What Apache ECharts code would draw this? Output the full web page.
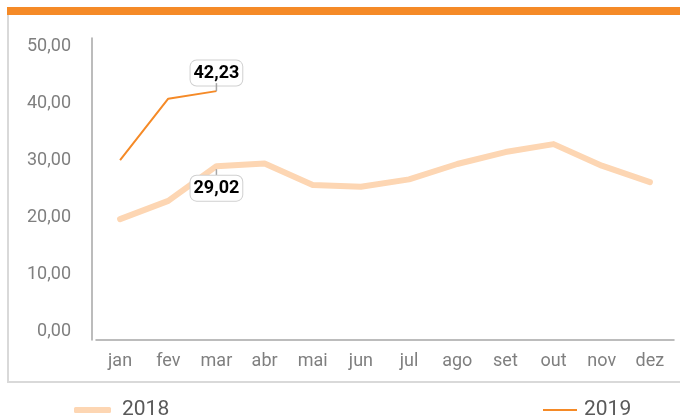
<!DOCTYPE html>
<html>
<head>
<meta charset="utf-8">
<script src="https://cdn.jsdelivr.net/npm/echarts@6/dist/echarts.min.js"></script>
<style>
  html, body { margin: 0; padding: 0; background: #fff; }
  #chart { width: 680px; height: 420px; }
</style>
</head>
<body>
<div id="chart"></div>
<script>
// dados
const meses = ['jan', 'fev', 'mar', 'abr', 'mai', 'jun', 'jul', 'ago', 'set', 'out', 'nov', 'dez'];
const valores2018 = [19.7, 22.9, 29.02, 29.5, 25.7, 25.4, 26.7, 29.4, 31.5, 32.9, 29.1, 26.2];
const valores2019 = [30.1, 40.9, 42.23];
const destaque = 2; // indice do mes com rotulo (mar)

const fonte = "Roboto, sans-serif";

function virgula(v) {
  return v.toFixed(2).replace('.', ',');
}

// monta os itens, so o ponto de destaque leva rotulo
function itens(valores, acima) {
  return valores.map((v, i) => {
    if (i !== destaque) return v;
    return {
      value: v,
      label: {
        show: true,
        position: acima ? 'top' : 'bottom',
        distance: acima ? 0 : 3,
        formatter: acima ? '{b|' + virgula(v) + '}\n{l|}' : '{l|}\n{b|' + virgula(v) + '}',
        rich: {
          b: {
            fontFamily: fonte,
            fontWeight: 'bold',
            fontSize: 18,
            color: '#000',
            lineHeight: 20,
            backgroundColor: '#fff',
            borderColor: '#d0d0d0',
            borderWidth: 1,
            borderRadius: 6,
            padding: [4, 3, 3, 3]
          },
          l: {
            width: 1.5,
            height: acima ? 8 : 9,
            backgroundColor: '#a6a6a6'
          }
        }
      }
    };
  });
}

let option = {
  animation: false,
  graphic: [
    { type: 'rect', shape: { x: 7, y: 7, width: 673, height: 8 }, style: { fill: '#f58a27' } },
    { type: 'rect', shape: { x: 7, y: 15, width: 2, height: 368 }, style: { fill: '#d9d9d9' } },
    { type: 'rect', shape: { x: 7, y: 381, width: 673, height: 2 }, style: { fill: '#d9d9d9' } }
  ],
  grid: {
    left: 96,
    right: 6,
    top: 38,
    bottom: 80
  },
  legend: [
    {
      data: ['2018'],
      left: 74,
      top: 398,
      padding: 0,
      icon: 'roundRect',
      itemWidth: 37,
      itemHeight: 6,
      textStyle: { fontFamily: fonte, fontSize: 21, color: '#595959', lineHeight: 24, padding: [0, 0, 0, 6] }
    },
    {
      data: ['2019'],
      left: 543,
      top: 398,
      padding: 0,
      icon: 'rect',
      itemWidth: 34,
      itemHeight: 2,
      textStyle: { fontFamily: fonte, fontSize: 21, color: '#595959', lineHeight: 24, padding: [0, 0, 0, 2] }
    }
  ],
  xAxis: {
    type: 'category',
    data: meses,
    boundaryGap: true,
    axisLine: { onZero: false, lineStyle: { color: '#a6a6a6', width: 1.5 } },
    axisTick: { show: false },
    axisLabel: { fontFamily: fonte, fontSize: 18, color: '#7f7f7f', margin: 12 }
  },
  yAxis: {
    type: 'value',
    min: -1.58,
    max: 51.58,
    offset: 4,
    splitLine: { show: false },
    axisLine: { show: true, lineStyle: { color: '#a6a6a6', width: 1.5 } },
    axisTick: { show: false },
    axisLabel: {
      showMinLabel: false,
      showMaxLabel: false,
      fontFamily: fonte,
      fontSize: 18,
      color: '#7f7f7f',
      margin: 21,
      formatter: v => (Math.abs(v % 10) < 1e-9 ? virgula(v) : '')
    }
  },
  series: [
    {
      name: '2018',
      type: 'line',
      data: itens(valores2018, false),
      symbol: 'circle',
      symbolSize: 0,
      color: '#fdd6b3',
      lineStyle: { width: 6, color: '#fdd6b3', cap: 'round', join: 'round' },
      z: 2
    },
    {
      name: '2019',
      type: 'line',
      data: itens(valores2019, true),
      symbol: 'circle',
      symbolSize: 0,
      color: '#f58a27',
      lineStyle: { width: 2, color: '#f58a27' },
      z: 3
    }
  ]
};

var myChart = echarts.init(document.getElementById('chart'));
myChart.setOption(option);
</script>
</body>
</html>
